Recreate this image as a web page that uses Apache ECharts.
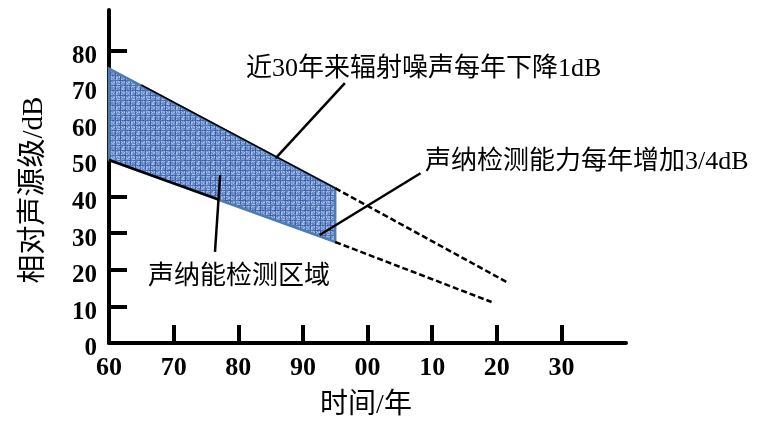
<!DOCTYPE html>
<html><head><meta charset="utf-8">
<script src="https://cdn.jsdelivr.net/npm/echarts@6/dist/echarts.min.js"></script>
<style>html,body{margin:0;padding:0;background:#fff}#c{width:769px;height:424px}</style>
</head><body><div id="c"></div>
<script>
// ---- data (x = years since 1900, y = dB) ----
const xTickValues = [60, 70, 80, 90, 100, 110, 120, 130];
const yTickValues = [10, 20, 30, 40, 50, 60, 70, 80];
const yLabelValues = [0, 10, 20, 30, 40, 50, 60, 70, 80];
const upperEdge = [[60, 75], [95, 42.3]];          // radiated noise
const lowerEdge = [[60, 50], [95, 27.6]];          // sonar detection threshold
const upperForecast = [[95, 42.3], [121.5, 16.7]];
const lowerForecast = [[95, 27.6], [119.2, 11.2]];
const upperBlackPart = [[65, 70.5], [95, 42.3]];
const lowerBlackPart = [[60, 50], [77, 39.2]];
const leaderNoise = [[85.8, 50.5], [96.5, 71]];
const leaderSonar = [[92.6, 29.5], [108.2, 46.4]];
const leaderRegion = [[77.2, 45.9], [76.4, 24.9]];
const labelNoise = '近30年来辐射噪声每年下降1dB';
const labelSonar = '声纳检测能力每年增加3/4dB';
const labelRegion = '声纳能检测区域';
const xName = '时间/年';
const yName = '相对声源级/dB';

const FONT = '"Liberation Serif", "Noto Sans CJK SC", serif';

// deterministic mottled texture tile for the detection region
const T = 15;
const pat = document.createElement('canvas');
pat.width = T; pat.height = T;
const pc = pat.getContext('2d');
for (let y = 0; y < T; y++) {
  for (let x = 0; x < T; x++) {
    let h = Math.sin(x * 12.9898 + y * 78.233) * 43758.5453;
    h = h - Math.floor(h);
    let c;
    if (x % 5 === 0 || y % 5 === 0) c = h < 0.5 ? '#3b5c9e' : '#5475b6';
    else c = h < 0.3 ? '#6587c6' : (h < 0.7 ? '#7e9fda' : '#a6c0ec');
    pc.fillStyle = c; pc.fillRect(x, y, 1, 1);
  }
}

const regionPts = upperEdge.concat(lowerEdge.slice().reverse());

const chart = echarts.init(document.getElementById('c'), null, {renderer: 'canvas'});
function lineSeries(data, type, width) {
  return {type: 'line', data: data, symbol: 'none', silent: true, animation: false,
    lineStyle: {color: '#000', width: width, type: type}, z: 3};
}
chart.setOption({
  animation: false,
  grid: {left: 109, right: 143, top: 10, bottom: 81},
  xAxis: {
    type: 'value', min: 60, max: 140,
    axisLine: {lineStyle: {color: '#000', width: 4}},
    axisTick: {inside: true, length: 18, lineStyle: {color: '#000', width: 4}, customValues: xTickValues},
    axisLabel: {customValues: xTickValues, margin: 12, fontFamily: FONT, fontSize: 26, fontWeight: 'bold', color: '#000',
      formatter: v => String(v % 100).padStart(2, '0')},
    splitLine: {show: false}
  },
  yAxis: {
    type: 'value', min: 0, max: 91,
    axisLine: {show: true, lineStyle: {color: '#000', width: 4}},
    axisTick: {show: true, inside: true, length: 18, lineStyle: {color: '#000', width: 4}, customValues: yTickValues},
    axisLabel: {customValues: yLabelValues, margin: 12, fontFamily: FONT, fontSize: 25, fontWeight: 'bold', color: '#000',
      formatter: v => '{v|' + v + '}',
      rich: {v: {fontFamily: FONT, fontSize: 25, fontWeight: 'bold', color: '#000', padding: [12, 0, 0, 0]}}},
    splitLine: {show: false}
  },
  series: [
    {
      type: 'custom', data: regionPts, silent: true, z: 2,
      renderItem: function (params, api) {
        if (params.dataIndex !== 0) return null;
        const pts = regionPts.map(p => api.coord(p));
        return {type: 'polygon', shape: {points: pts},
          style: {fill: {image: pat, repeat: 'repeat'}, stroke: '#4f7cae', lineWidth: 2.5}};
      }
    },
    lineSeries(upperBlackPart, 'solid', 1.5),
    lineSeries(lowerBlackPart, 'solid', 2.5),
    lineSeries(upperForecast, [6, 3], 2.5),
    lineSeries(lowerForecast, [6, 3], 2.5),
    lineSeries(leaderNoise, 'solid', 2.5),
    lineSeries(leaderSonar, 'solid', 2.5),
    lineSeries(leaderRegion, 'solid', 2.5)
  ],
  graphic: [
    {type: 'text', left: 246, top: 56, style: {text: labelNoise, font: '26px ' + FONT, fill: '#000'}},
    {type: 'text', left: 425, top: 149, style: {text: labelSonar, font: '26px ' + FONT, fill: '#000'}},
    {type: 'text', left: 148, top: 264, style: {text: labelRegion, font: '26px ' + FONT, fill: '#000'}},
    {type: 'text', x: 366, y: 406, style: {text: xName, font: '28px ' + FONT, fill: '#000', align: 'center', verticalAlign: 'middle'}},
    {type: 'text', x: 34, y: 190, rotation: Math.PI / 2, style: {text: yName, font: '29px ' + FONT, fill: '#000', align: 'center', verticalAlign: 'middle'}}
  ]
});
</script></body></html>
